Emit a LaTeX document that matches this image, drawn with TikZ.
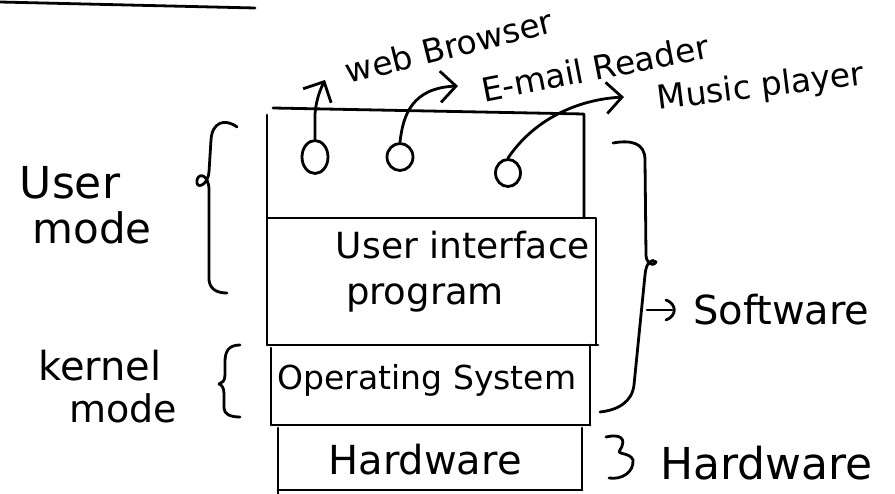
\documentclass[tikz,border=0pt]{standalone}
\usepackage{fontspec}
\setmainfont{DejaVu Sans}
\usetikzlibrary{arrows.meta,shapes.geometric}
\newcommand{\fs}[1]{\fontsize{#1}{#1}\selectfont}
\begin{document}
\begin{tikzpicture}[x=1pt,y=-1pt,
  ink/.style={line width=2.8pt,line cap=round,line join=round},
  lbl/.style={inner sep=0pt},
  arr/.style={ink,-{Straight Barb[scale=2.2]}},
  app/.style={ink,draw,ellipse,inner sep=0pt}]
\useasboundingbox (0,0) rectangle (895,494);

% stray rule along the top edge
\draw[ink] (0,2) -- (255,8);

% layer stack
\draw[ink] (267,115) -- (267,345);
\draw[ink] (273,108) -- (584,114) -- (584,218);
\draw[ink] (268,218) -- (596,218) -- (596,345);
\draw[ink] (268,345) -- (598,345);
\draw[ink] (271,348) -- (271,425);
\draw[ink] (590,345) -- (590,425);
\draw[ink] (272,425) -- (590,425);
\draw[ink] (278,428) -- (278,494);
\draw[ink] (582,428) -- (582,490);
\draw[ink] (278,490) -- (582,490);

% layer labels
\node[lbl,font=\fs{36}] (ui)  at (463,245) {User interface};
\node[lbl,font=\fs{37}] (prg) at (425,298) {program};
\node[lbl,font=\fs{33}] (os)  at (427,380) {Operating System};
\node[lbl,font=\fs{40}] (hw)  at (425,460) {Hardware};

% application processes
\node[app,minimum width=26pt,minimum height=33pt] (p1) at (315,157) {};
\node[app,minimum width=26pt,minimum height=27pt] (p2) at (400,157) {};
\node[app,minimum width=25pt,minimum height=27pt] (p3) at (508,173) {};

\node[lbl,font=\fs{33},rotate=14] (wb) at (449,46) {web Browser};
\node[lbl,font=\fs{33},rotate=11] (em) at (595,68) {E-mail Reader};
\node[lbl,font=\fs{33},rotate=7]  (mp) at (761,88) {Music player};

\coordinate (wbt) at (325,80);
\coordinate (emt) at (458,86);
\coordinate (mpt) at (624,97);
\draw[arr] (p1.north) -- (315,114) .. controls (316,102) and (319,92) .. (wbt);
\draw[arr] (p2.north) .. controls (403,115) and (412,88) .. (emt);
\draw[arr] (p3.north) .. controls (530,125) and (570,100) .. (mpt);

% user mode brace
\node[lbl,font=\fs{44}] (um1) at (70,183) {User};
\node[lbl,font=\fs{42}] (um2) at (92,228) {mode};
\draw[ink] (237,127) .. controls (225,118) and (212,122) .. (211,140)
  -- (209,172) .. controls (208,186) and (195,190) .. (197,180)
  .. controls (199,172) and (209,175) .. (209,190)
  -- (209,280) .. controls (210,290) and (218,293) .. (227,293);

% kernel mode brace
\node[lbl,font=\fs{40}] (km1) at (100,366) {kernel};
\node[lbl,font=\fs{38}] (km2) at (123,408) {mode};
\draw[ink] (240,345) .. controls (228,345) and (225,352) .. (225,362)
  -- (225,375) .. controls (225,381) and (222,383) .. (219,384)
  .. controls (222,385) and (224,388) .. (224,394)
  -- (224,408) .. controls (224,414) and (230,417) .. (240,417);

% software brace
\draw[ink] (613,143) .. controls (630,140) and (645,142) .. (645,160)
  -- (646,255) .. controls (646,262) and (652,268) .. (656,262)
  .. controls (652,258) and (646,262) .. (645,275)
  -- (634,385) .. controls (632,402) and (618,410) .. (600,412);
\node[lbl,font=\fs{40},anchor=west] (sw) at (693,310) {Software};
\coordinate (swa) at (647,310);
\draw[ink] (swa) -- (672,310);
\draw[ink] (666,300) .. controls (677,304) and (677,316) .. (666,320);

% hardware brace
\node[lbl,font=\fs{44},anchor=west] (hwr) at (660,463) {Hardware};
\draw[ink] (606,437) .. controls (618,434) and (628,437) .. (620,450)
  .. controls (616,455) and (630,452) .. (633,460)
  .. controls (634,472) and (622,480) .. (609,478);
\end{tikzpicture}
\end{document}
